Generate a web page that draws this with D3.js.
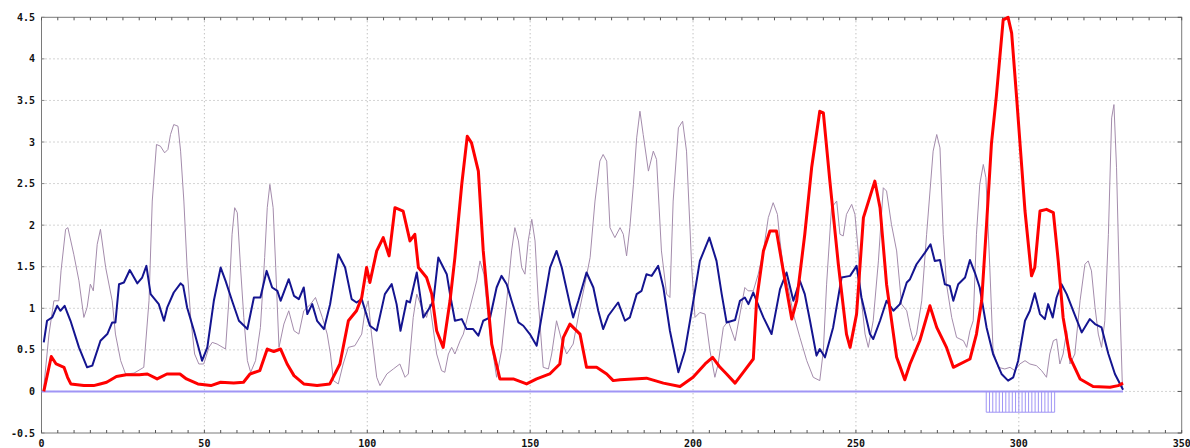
<!DOCTYPE html>
<html>
<head>
<meta charset="utf-8">
<script src="https://cdn.jsdelivr.net/npm/d3@7"></script>
<style>
  html, body { margin: 0; padding: 0; background: #fff; }
  #chart { width: 1190px; height: 448px; }
  .tick-label { font-family: "DejaVu Sans Mono", monospace; font-weight: bold; font-size: 10px; fill: #111; }
</style>
</head>
<body>
<div id="chart"></div>
<script>
// x ticks / y ticks
const xTicks = [0, 50, 100, 150, 200, 250, 300, 350];
const yTicks = [-0.5, 0, 0.5, 1, 1.5, 2, 2.5, 3, 3.5, 4, 4.5];

// thin mauve series
const mauveLine = [[0.7,0.05],[2.3,0.69],[3.8,1.09],[5.3,1.09],[6,1.45],[7.4,1.95],[8.1,1.97],[9.9,1.65],[11.5,1.33],[13,0.89],[14,1.01],[15,1.29],[15.9,1.21],[17.1,1.77],[18.1,1.95],[19.7,1.49],[21.7,1.09],[22.7,0.69],[24.3,0.37],[25.8,0.21],[28.4,0.22],[31.4,0.29],[33,1.09],[34,2.29],[35.3,2.97],[36.5,2.95],[37.8,2.87],[38.8,2.91],[39.6,3.09],[40.6,3.21],[41.9,3.19],[42.7,2.89],[43.7,2.29],[44.7,1.49],[45.8,0.89],[47,0.45],[48.3,0.33],[49.8,0.33],[51.4,0.53],[52.4,0.59],[53.9,0.57],[56.5,0.51],[57.5,1.09],[58.5,1.89],[59.3,2.21],[60.1,2.15],[61.1,1.49],[62.1,0.89],[63.2,0.37],[64.2,0.23],[65.7,0.37],[67.2,0.77],[68.5,1.61],[69.3,2.21],[70.1,2.49],[71.1,2.21],[71.9,1.49],[72.9,0.53],[74.4,0.81],[75.9,0.97],[77.5,0.73],[79,0.69],[80.5,0.97],[82.6,1.05],[84.1,1.13],[86.2,0.89],[87.7,0.69],[88.7,0.45],[89.6,0.13],[91.1,0.09],[92.6,0.33],[94.2,0.53],[96.2,0.55],[98.3,0.69],[99.3,0.97],[100.3,1.09],[101.3,0.69],[102.9,0.17],[103.9,0.07],[106,0.21],[108,0.27],[110,0.33],[111.6,0.17],[112.6,0.21],[114.1,0.89],[115.2,1.17],[116.7,1.01],[118.2,0.89],[119.2,1.05],[121.3,0.45],[122.8,0.25],[123.8,0.23],[124.9,0.45],[125.9,0.53],[126.9,0.45],[128.5,0.61],[129.5,0.69],[131,0.93],[133.6,1.33],[134.6,1.57],[135.8,1.41],[136.6,1.09],[137.7,0.69],[139.7,0.17],[141.2,0.49],[142.8,1.09],[144.3,1.69],[145.3,1.97],[146.4,1.81],[147.4,1.49],[148.4,1.41],[149.4,1.81],[150.5,2.07],[151.5,1.81],[152.5,1.09],[154,0.29],[155.6,0.27],[156.6,0.45],[158.1,0.85],[159.7,0.61],[161.2,0.45],[163.2,0.57],[165.3,1.01],[166.8,1.29],[168.4,1.61],[169.9,2.29],[171.4,2.77],[172.4,2.85],[173.5,2.77],[174.5,1.97],[176,1.85],[177.6,1.97],[178.6,1.89],[179.6,1.63],[180.6,1.97],[181.7,2.49],[182.7,3.05],[183.7,3.37],[184.7,3.09],[186.3,2.65],[187.8,2.89],[188.8,2.79],[190.3,1.69],[191.9,1.17],[192.9,1.13],[193.9,2.29],[195.5,3.17],[196.8,3.25],[198,2.89],[199.6,1.49],[200.6,0.89],[202.1,0.95],[203.7,0.93],[205.2,0.49],[206.7,0.17],[207.7,0.33],[209.3,0.77],[210.8,0.85],[212.9,0.61],[214.4,0.93],[215.9,1.25],[216.9,1.21],[218.5,1.21],[220,1.41],[221.6,1.69],[223.1,2.09],[224.6,2.27],[225.9,2.13],[226.7,1.81],[227.7,1.49],[229.2,1.25],[230.8,0.93],[232.8,0.65],[234.9,0.37],[236.9,0.17],[238.9,0.13],[240,0.49],[241,1.29],[242.5,2.21],[244.1,2.29],[245.1,1.89],[246.1,1.87],[247.1,2.13],[248.7,2.25],[249.7,2.13],[250.7,1.69],[251.7,1.09],[252.8,0.69],[253.8,0.53],[255.3,0.85],[256.9,1.57],[258.4,2.45],[259.4,2.41],[260.9,2.01],[262.5,1.69],[264,1.05],[265.6,0.97],[266.6,0.77],[267.6,0.61],[268.6,0.69],[270.2,1.09],[271.7,1.89],[273.7,2.89],[274.8,3.09],[275.8,2.93],[276.8,1.89],[277.8,1.29],[279.4,0.89],[280.9,0.65],[283,0.61],[284,0.53],[285,0.73],[286,0.85],[287,1.89],[288,2.49],[289.1,2.73],[289.9,2.57],[291.1,1.49],[292.1,0.49],[293.7,0.29],[295.7,0.27],[297.3,0.29],[298.8,0.25],[300.3,0.33],[301.9,0.37],[303.4,0.33],[305.4,0.31],[307,0.25],[308.5,0.17],[309.5,0.45],[310.6,0.61],[311.6,0.63],[312.6,0.33],[313.6,0.45],[314.7,0.73],[315.7,0.33],[317.2,0.45],[318.8,1.09],[320.3,1.53],[321.3,1.57],[322.3,1.45],[323.4,1.01],[324.4,0.69],[325.4,0.53],[326.4,0.85],[327.5,1.89],[328.5,3.29],[329.2,3.45],[330,2.69],[331,1.09],[331.8,0.05]];

// navy series
const navyLine = [[0.7,0.59],[1.7,0.85],[3.3,0.89],[4.8,1.03],[5.8,0.97],[7.1,1.03],[8.9,0.85],[11.5,0.53],[14,0.29],[15.6,0.31],[18.1,0.61],[20.2,0.69],[21.7,0.83],[22.7,0.83],[23.8,1.29],[25.3,1.31],[27.1,1.46],[29.4,1.3],[30.9,1.37],[32.2,1.51],[33.5,1.17],[36,1.05],[37.6,0.85],[38.6,1.01],[40.6,1.19],[42.7,1.3],[43.5,1.27],[44.7,1.01],[46.8,0.73],[49.3,0.37],[50.9,0.53],[52.9,1.09],[55,1.49],[56.5,1.33],[58.5,1.09],[60.6,0.85],[63.2,0.75],[65.2,1.13],[67.2,1.13],[69.1,1.45],[70.8,1.25],[72.4,1.21],[73.4,1.09],[75.9,1.35],[77.5,1.15],[79,1.11],[80.5,1.25],[81.6,0.93],[83.1,1.05],[84.6,0.85],[86.7,0.75],[88.6,1.05],[91.1,1.65],[93.2,1.49],[95.2,1.11],[96.7,1.07],[98.3,1.11],[100.8,0.79],[102.9,0.73],[105.4,1.17],[107.5,1.29],[109,1.05],[110.2,0.73],[112.1,1.09],[113.1,1.07],[115.2,1.43],[117.2,0.89],[119.2,1.01],[120.3,1.09],[121.8,1.61],[124.4,1.41],[125.4,1.17],[126.9,0.85],[129,0.87],[130.5,0.75],[132.5,0.75],[134.1,0.67],[135.6,0.85],[137.7,0.89],[139.7,1.25],[141.2,1.39],[142.8,1.29],[144.3,1.09],[146.4,0.83],[147.9,0.79],[149.9,0.69],[152,0.55],[154,1.01],[156.1,1.49],[158.1,1.69],[159.7,1.49],[162.2,1.05],[163.2,0.89],[164.8,1.09],[167.3,1.43],[169.4,1.25],[170.9,0.97],[172.4,0.75],[174,0.91],[177,1.07],[179.1,0.85],[180.6,0.89],[182.7,1.17],[184.2,1.21],[185.7,1.41],[187.3,1.39],[189.3,1.51],[190.9,1.25],[192.9,0.73],[195.5,0.23],[197.5,0.49],[199.6,0.97],[202.1,1.57],[205,1.85],[207.2,1.57],[208.8,1.17],[210.3,0.83],[212.9,0.86],[214.4,1.09],[215.9,1.13],[217,1.05],[218.5,1.19],[219.5,1.09],[221.6,0.89],[224.1,0.69],[226.7,1.23],[228.7,1.43],[230.8,1.09],[232.8,1.33],[234.3,1.17],[235.9,0.85],[237.9,0.43],[238.9,0.51],[240.5,0.41],[243,0.77],[245.6,1.37],[248.2,1.39],[250.2,1.51],[251.7,1.13],[254.3,0.69],[255.3,0.63],[257.4,0.85],[259.4,1.09],[261.5,0.97],[263.5,1.05],[265.6,1.31],[266.6,1.35],[268.6,1.53],[271.2,1.67],[272.9,1.77],[274.2,1.57],[275.8,1.58],[277.3,1.29],[278.8,1.27],[279.9,1.09],[281.4,1.29],[283.5,1.37],[285,1.58],[286.5,1.43],[288,1.25],[290.1,0.77],[292.1,0.45],[294.7,0.21],[296.7,0.13],[298.3,0.17],[299.8,0.37],[301.9,0.85],[303.4,0.97],[304.9,1.18],[306.5,0.93],[308,0.87],[309,1.05],[310.4,0.89],[311.6,1.13],[313.1,1.29],[314.7,1.17],[316.7,0.97],[319.3,0.71],[321.8,0.87],[323.4,0.81],[325.4,0.77],[327.5,0.45],[329.5,0.21],[332,0.02]];

// red series
const redLine = [[0.7,0],[3,0.42],[4.5,0.33],[6.9,0.29],[8,0.17],[9,0.09],[13,0.07],[16,0.07],[18,0.09],[20,0.11],[23,0.18],[26,0.2],[30,0.2],[32.5,0.21],[35.5,0.15],[38.5,0.21],[42.5,0.21],[44.5,0.15],[48,0.09],[52,0.07],[55,0.11],[59,0.1],[62,0.11],[64,0.21],[67,0.25],[69.3,0.51],[71.3,0.48],[73.4,0.51],[75.4,0.33],[77.5,0.19],[80.5,0.09],[84.6,0.07],[88.5,0.09],[91.6,0.33],[94.2,0.85],[96.7,0.97],[98.3,1.13],[99.8,1.49],[100.8,1.31],[102.9,1.69],[104.9,1.85],[106.7,1.63],[108.5,2.21],[111,2.17],[113.1,1.81],[114.6,1.89],[115.7,1.49],[118.2,1.37],[119.8,1.17],[121.3,0.73],[123.3,0.53],[125.4,1.09],[126.9,1.61],[129,2.49],[130.7,3.07],[132,2.99],[134.1,2.65],[135.6,1.69],[138.2,0.57],[140.7,0.15],[144.8,0.15],[148.9,0.09],[152,0.15],[156,0.21],[159.1,0.33],[160.2,0.65],[162.2,0.81],[165.3,0.69],[167.3,0.29],[170.4,0.29],[173.5,0.21],[175.5,0.13],[177.6,0.14],[185.7,0.16],[190.9,0.1],[196,0.06],[200,0.17],[203.7,0.33],[206,0.41],[208.3,0.29],[210.3,0.21],[212.9,0.1],[215.4,0.23],[218.5,0.39],[219.5,1.09],[221.6,1.69],[223.6,1.93],[225.6,1.93],[227.7,1.45],[230.3,0.87],[231.8,1.09],[234.3,1.89],[236.4,2.69],[238.9,3.37],[240,3.35],[242,2.53],[244.6,1.53],[247.1,0.69],[248.2,0.53],[250.2,0.93],[252.3,2.09],[255.8,2.53],[257.4,2.21],[259.4,1.29],[262.5,0.41],[265,0.14],[266.6,0.33],[269.6,0.61],[272.7,1.03],[274.8,0.77],[277.8,0.53],[279.9,0.29],[285,0.39],[287,0.69],[288.6,1.09],[290.1,2.01],[291.6,2.98],[293.1,3.55],[295.2,4.47],[296.7,4.5],[297.8,4.31],[299.3,3.55],[300.9,2.7],[301.9,2.17],[303.9,1.39],[304.9,1.49],[306.5,2.17],[308.5,2.19],[310.6,2.15],[312.1,1.57],[313.6,0.89],[315.7,0.41],[318.8,0.15],[322.8,0.06],[328,0.05],[330.5,0.07],[332,0.1]];

// lavender baseline and marked region
const baseRange = [0, 332];
const markedRegion = [290, 311];
const markedDepth = -0.25;

const width = 1190, height = 448;
const margin = {top: 17.3, right: 8.3, bottom: 15, left: 41.5};

const x = d3.scaleLinear().domain([0, 350]).range([margin.left, width - margin.right]);
const y = d3.scaleLinear().domain([-0.5, 4.5]).range([height - margin.bottom, margin.top]);

const svg = d3.select("#chart").append("svg")
    .attr("width", width)
    .attr("height", height);

// grid
svg.append("g")
    .selectAll("line")
    .data(xTicks.slice(1, -1))
    .join("line")
    .attr("x1", d => x(d)).attr("x2", d => x(d))
    .attr("y1", y(4.5)).attr("y2", y(-0.5))
    .attr("stroke", "#a8a8a8")
    .attr("stroke-dasharray", "1,3");

svg.append("g")
    .selectAll("line")
    .data(yTicks.slice(1, -1))
    .join("line")
    .attr("x1", x(0)).attr("x2", x(350))
    .attr("y1", d => y(d)).attr("y2", d => y(d))
    .attr("stroke", "#a8a8a8")
    .attr("stroke-dasharray", "1,3");

// frame
svg.append("rect")
    .attr("x", x(0)).attr("y", y(4.5))
    .attr("width", x(350) - x(0)).attr("height", y(-0.5) - y(4.5))
    .attr("fill", "none")
    .attr("stroke", "#7a7a7a");

// minor ticks
const xMinor = d3.range(0, 351, 5);
svg.append("g").selectAll("line").data(xMinor).join("line")
    .attr("x1", d => x(d)).attr("x2", d => x(d))
    .attr("y1", y(-0.5)).attr("y2", y(-0.5) - 3)
    .attr("stroke", "#555");
svg.append("g").selectAll("line").data(xMinor).join("line")
    .attr("x1", d => x(d)).attr("x2", d => x(d))
    .attr("y1", y(4.5)).attr("y2", y(4.5) + 3)
    .attr("stroke", "#555");
svg.append("g").selectAll("line").data(yTicks).join("line")
    .attr("x1", x(350)).attr("x2", x(350) - 4)
    .attr("y1", d => y(d)).attr("y2", d => y(d))
    .attr("stroke", "#555");
svg.append("g").selectAll("line").data(yTicks).join("line")
    .attr("x1", x(0)).attr("x2", x(0) + 3)
    .attr("y1", d => y(d)).attr("y2", d => y(d))
    .attr("stroke", "#888");

// tick labels
svg.append("g").selectAll("text").data(yTicks).join("text")
    .attr("class", "tick-label")
    .attr("x", 35)
    .attr("y", d => y(d))
    .attr("dy", "0.35em")
    .attr("text-anchor", "end")
    .text(d => d);

svg.append("g").selectAll("text").data(xTicks).join("text")
    .attr("class", "tick-label")
    .attr("x", d => x(d))
    .attr("y", y(-0.5) + 13.5)
    .attr("text-anchor", "middle")
    .text(d => d);

const line = d3.line().x(d => x(d[0])).y(d => y(d[1]));

// lavender baseline
const lavender = "#a095f5";
svg.append("path")
    .datum(baseRange.map(v => [v, 0]))
    .attr("d", line)
    .attr("stroke", lavender)
    .attr("stroke-width", 2)
    .attr("fill", "none");

svg.append("g").selectAll("line")
    .data(d3.range(markedRegion[0], markedRegion[1] + 1))
    .join("line")
    .attr("x1", d => x(d)).attr("x2", d => x(d))
    .attr("y1", y(0)).attr("y2", y(markedDepth))
    .attr("stroke", lavender)
    .attr("stroke-width", 1);
svg.append("path")
    .datum(markedRegion.map(v => [v, markedDepth]))
    .attr("d", line)
    .attr("stroke", lavender)
    .attr("stroke-width", 1)
    .attr("fill", "none");

// series
svg.append("path")
    .datum(mauveLine)
    .attr("d", line)
    .attr("stroke", "#a48cac")
    .attr("stroke-width", 1)
    .attr("fill", "none");

svg.append("path")
    .datum(navyLine)
    .attr("d", line)
    .attr("stroke", "#141490")
    .attr("stroke-width", 2)
    .attr("stroke-linejoin", "round")
    .attr("fill", "none");

svg.append("path")
    .datum(redLine)
    .attr("d", line)
    .attr("stroke", "#ff0000")
    .attr("stroke-width", 3)
    .attr("stroke-linejoin", "round")
    .attr("fill", "none");
</script>
</body>
</html>
